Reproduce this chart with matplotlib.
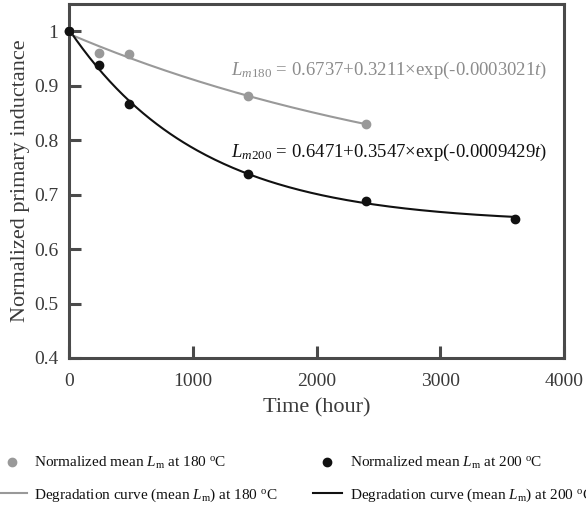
"""Normalized primary inductance vs. time at 180 and 200 degC"""

import numpy as np
import matplotlib
matplotlib.use('Agg')
import matplotlib.pyplot as plt

plt.rcParams['font.family'] = ['Liberation Serif', 'DejaVu Serif']
plt.rcParams['mathtext.fontset'] = 'custom'
plt.rcParams['mathtext.rm'] = 'Liberation Serif'
plt.rcParams['mathtext.it'] = 'Liberation Serif:italic'

# measured points (hours, normalized inductance)
t_180 = [0, 240, 480, 1440, 2400]
lm_180 = [1.0, 0.960, 0.959, 0.881, 0.829]
t_200 = [0, 240, 480, 1440, 2400, 3600]
lm_200 = [1.0, 0.938, 0.866, 0.737, 0.688, 0.655]

# fitted degradation curves: a + b*exp(-c*t), parameters as printed on the chart
fit_180 = (0.6737, 0.3211, 0.0003021)
fit_200 = (0.6471, 0.3547, 0.0009429)

GRAY = '#999999'
AX_COL = '#4a4a4a'
TXT_COL = '#3a3a3a'

fig = plt.figure(figsize=(5.86, 5.09), dpi=100)
ax = fig.add_axes([0.1186, 0.2967, 0.8439, 0.6955])

tt180 = np.linspace(0, t_180[-1], 200)
tt200 = np.linspace(0, t_200[-1], 200)
curve180 = fit_180[0] + fit_180[1] * np.exp(-fit_180[2] * tt180)
curve200 = fit_200[0] + fit_200[1] * np.exp(-fit_200[2] * tt200)

h1, = ax.plot(t_180, lm_180, 'o', color=GRAY, ms=6, zorder=4, clip_on=False,
              label='Normalized mean $L_{\\mathrm{m}}$ at 180 $^{\\mathrm{o}}$C')
h2, = ax.plot(tt180, curve180, '-', color=GRAY, lw=1.5, zorder=3,
              label='Degradation curve (mean $L_{\\mathrm{m}}$) at 180 $^{\\mathrm{o}}$C')
h3, = ax.plot(t_200, lm_200, 'o', color='#111111', ms=6, zorder=4, clip_on=False,
              label='Normalized mean $L_{\\mathrm{m}}$ at 200 $^{\\mathrm{o}}$C')
h4, = ax.plot(tt200, curve200, '-', color='#111111', lw=1.5, zorder=3,
              label='Degradation curve (mean $L_{\\mathrm{m}}$) at 200 $^{\\mathrm{o}}$C')

ax.text(3862, 0.928, '$L_{m\\mathrm{180}}$ = 0.6737+0.3211×exp(-0.0003021$t$)',
        color='#8c8c8c', fontsize=13.5, ha='right', va='center')
ax.text(3862, 0.778, '$L_{m\\mathrm{200}}$ = 0.6471+0.3547×exp(-0.0009429$t$)',
        color='#111111', fontsize=13.5, ha='right', va='center')

ax.set_xlim(0, 4000)
ax.set_ylim(0.4, 1.05)
ax.set_xticks([0, 1000, 2000, 3000, 4000])
ax.set_xticklabels(['0', '1000', '2000', '3000', '4000'])
ax.set_yticks([0.4, 0.5, 0.6, 0.7, 0.8, 0.9, 1.0])
ax.set_yticklabels(['0.4', '0.5', '0.6', '0.7', '0.8', '0.9', '1'])

for sp in ax.spines.values():
    sp.set_color(AX_COL)
    sp.set_linewidth(2.2)
ax.tick_params(direction='in', length=8.5, width=2.2, color=AX_COL,
               labelsize=14, labelcolor=TXT_COL, pad=8)
ax.tick_params(axis='x', pad=11)

ax.set_xlabel('Time (hour)', fontsize=16, color=TXT_COL, labelpad=6)
ax.set_ylabel('Normalized primary inductance', fontsize=16, color=TXT_COL, labelpad=3)

fig.legend(handles=[h1, h2, h3, h4], loc='upper left', bbox_to_anchor=(-0.004, 0.106),
           ncol=2, frameon=False, fontsize=11, handlelength=1.9, handletextpad=0.5,
           columnspacing=2.3, labelspacing=1.0, borderpad=0, borderaxespad=0,
           labelcolor='#111111')

fig.savefig('out.png', dpi=100)
